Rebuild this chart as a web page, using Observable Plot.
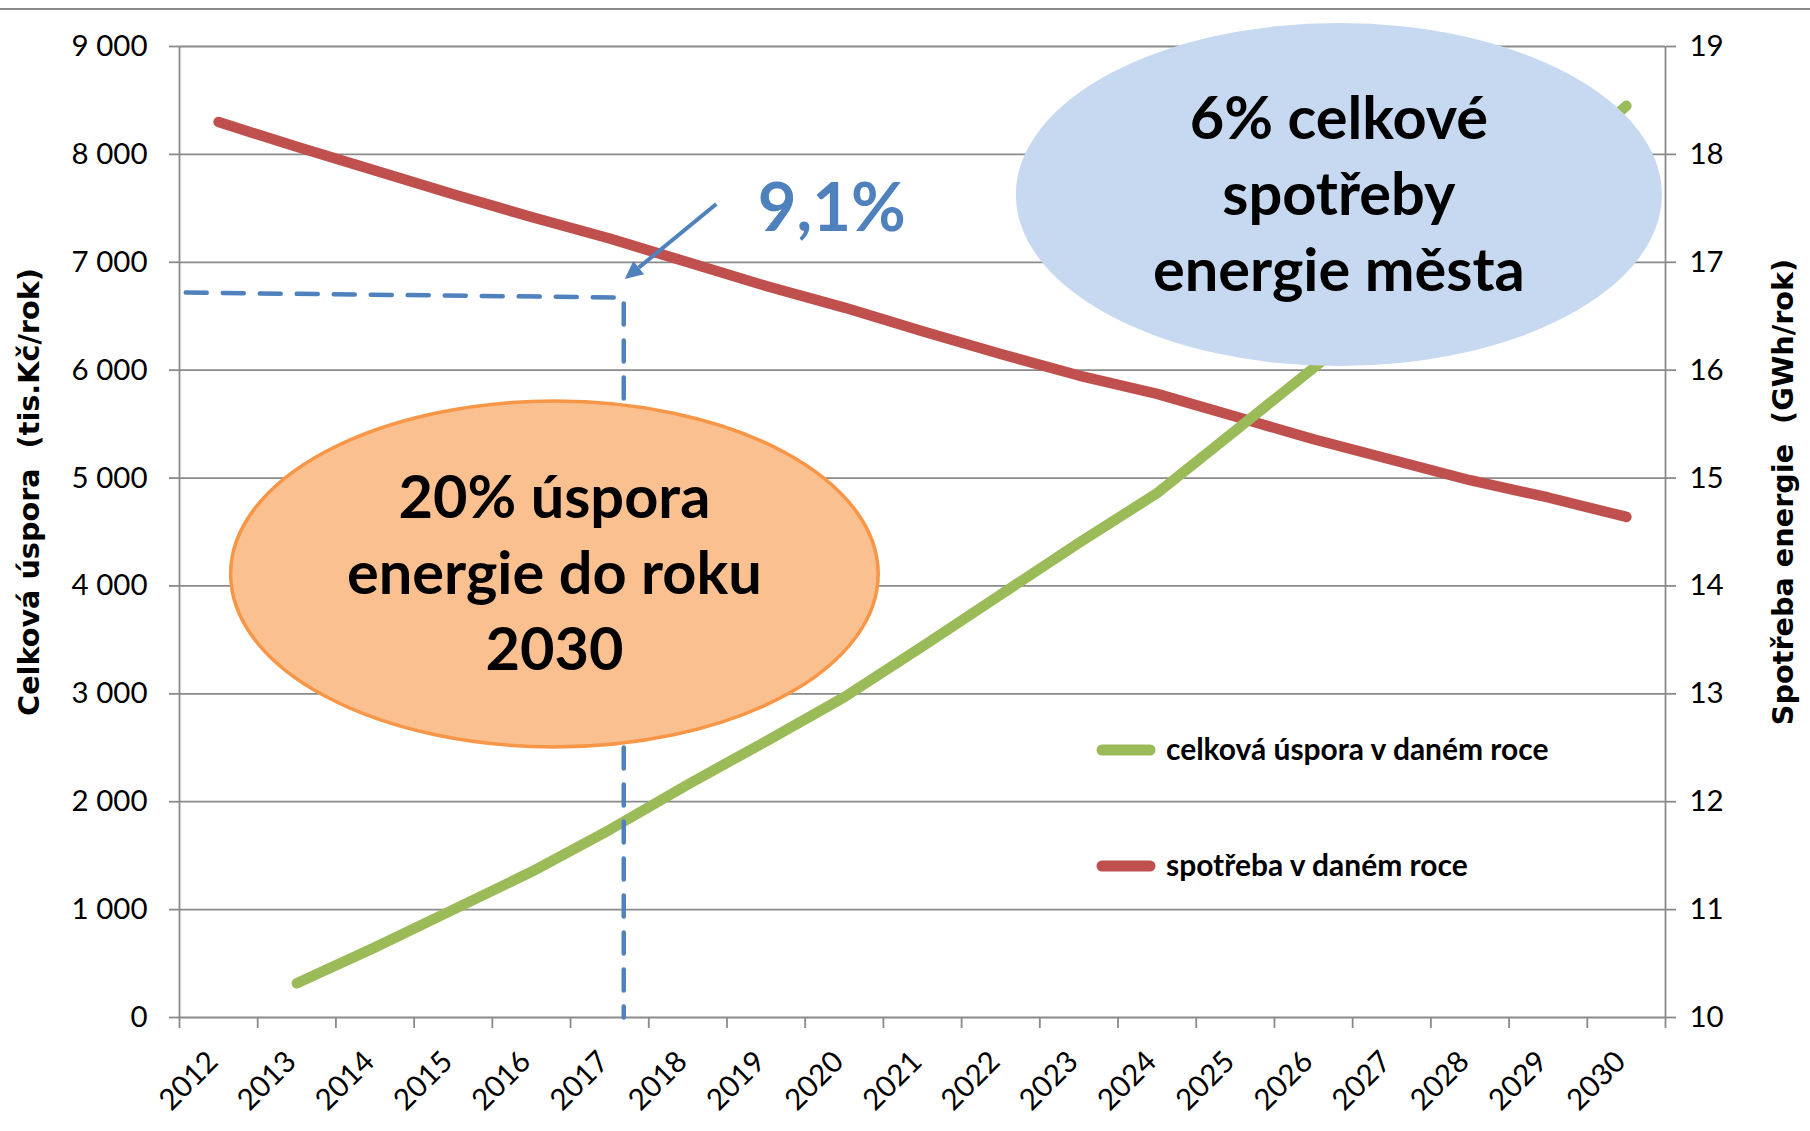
<!DOCTYPE html>
<html><head><meta charset="utf-8">
<script src="https://cdn.jsdelivr.net/npm/d3@7"></script>
<script src="https://cdn.jsdelivr.net/npm/@observablehq/plot@0.6"></script>
<style>
html,body{margin:0;padding:0;background:#fff;}
#wrap{position:relative;width:1810px;height:1131px;overflow:hidden;background:#fff}
#topline{position:absolute;left:0;top:8px;width:1810px;height:2px;background:#8a8a8a}
</style></head>
<body><div id="wrap"><div id="topline"></div></div>
<script>
// ---- data ----
const years = [2012,2013,2014,2015,2016,2017,2018,2019,2020,2021,2022,2023,2024,2025,2026,2027,2028,2029,2030];
// celková úspora v daném roce (tis.Kč/rok) – left axis
const savings = [null,317,650,1000,1350,1740,2160,2560,2970,3440,3920,4400,4860,5440,6020,6610,7210,7820,8450];
// spotřeba v daném roce (GWh/rok) – right axis
const consumption = [18.30,18.07,17.85,17.63,17.42,17.22,17.00,16.78,16.58,16.36,16.15,15.95,15.78,15.57,15.36,15.17,14.98,14.82,14.64];
const leftTicks = [0,1000,2000,3000,4000,5000,6000,7000,8000,9000];
const rightTicks = [10,11,12,13,14,15,16,17,18,19];
const leftTitle = "Celková úspora  (tis.Kč/rok)";
const rightTitle = "Spotřeba energie  (GWh/rok)";
const seriesNames = ["celková úspora v daném roce", "spotřeba v daném roce"];
// annotations (data coordinates)
const guide = [{year: 2011.58, value: 6719}, {year: 2017.18, value: 6673}, {year: 2017.18, value: 0}];
const pointer = {from: {year: 2018.37, value: 7535}, to: {year: 2017.20, value: 6840}};
const pctLabel = {year: 2018.90, value: 7285, text: "9,1%"};
const savingsBubble = {year: 2016.30, value: 4106, rxYears: 4.14, ryValue: 1603, lines: ["20% úspora", "energie do roku", "2030"]};
const shareBubble = {year: 2026.33, value: 7623, rxYears: 4.13, ryValue: 1590, lines: ["6% celkové", "spotřeby", "energie města"]};

// ---- helpers ----
const FONT = "Lato, 'Open Sans', sans-serif";
const TITLE_FONT = "'DejaVu Sans', Verdana, sans-serif";
const ctx = document.createElement("canvas").getContext("2d");
function fitSize(text, weight, family, width) {
  ctx.font = `${weight} 100px ${family}`;
  return 100 * width / ctx.measureText(text).width;
}
const GREEN = "#9BBB59", RED = "#C0504D", BLUE = "#4F81BD", GRID = "#8a8a8a";
const W = 1810, H = 1131, mL = 179, mR = 145, mT = 46, mB = 114;

const tickFs = fitSize("9 000", "normal", FONT, 76);
const fmtLeft = d => d3.format(",")(d).replace(",", " ");
const toLeft = v => (v - 10) * 1000; // map right axis (GWh) onto left axis scale
const bounds = years.map(y => y - 0.5).concat([years[years.length - 1] + 0.5]);

const green = years.map((y, i) => ({year: y, value: savings[i]})).filter(d => d.value != null);
const red = years.map((y, i) => ({year: y, value: toLeft(consumption[i])}));

const plot = Plot.plot({
  width: W, height: H,
  marginLeft: mL, marginRight: mR, marginTop: mT, marginBottom: mB,
  x: {domain: [bounds[0], bounds[bounds.length - 1]], axis: null},
  y: {domain: [0, 9000], axis: null},
  style: {fontFamily: FONT, background: "transparent", overflow: "visible", color: "black"},
  marks: [
    Plot.gridY(leftTicks, {stroke: GRID, strokeOpacity: 1, strokeWidth: 1.8}),
    Plot.ruleX([bounds[0], bounds[bounds.length - 1]], {stroke: GRID, strokeWidth: 1.8}),
    Plot.axisY(leftTicks, {anchor: "left", label: null, tickSize: 10, tickPadding: 22, tickFormat: fmtLeft,
      fontSize: tickFs, stroke: GRID, strokeWidth: 1.8, strokeOpacity: 1, fill: "black"}),
    Plot.axisY(rightTicks.map(toLeft), {anchor: "right", label: null, tickSize: 10, tickPadding: 14,
      tickFormat: d => String(d / 1000 + 10), fontSize: tickFs, stroke: GRID, strokeWidth: 1.8, strokeOpacity: 1, fill: "black"}),
    Plot.axisX(bounds, {anchor: "bottom", label: null, tickSize: 11, tickFormat: () => "", stroke: GRID, strokeWidth: 1.8, strokeOpacity: 1}),
    Plot.text(years, {x: d => d, frameAnchor: "bottom", text: d => String(d), rotate: -45,
      textAnchor: "end", dx: 1, dy: 46, fontSize: tickFs, fill: "black"}),
    Plot.line(red, {x: "year", y: "value", stroke: RED, strokeWidth: 10.5, strokeLinecap: "round", strokeLinejoin: "round"}),
    Plot.line(green, {x: "year", y: "value", stroke: GREEN, strokeWidth: 10.5, strokeLinecap: "round", strokeLinejoin: "round"}),
    Plot.line(guide, {x: "year", y: "value", stroke: BLUE, strokeWidth: 4.5, strokeDasharray: "21 16"})
  ]
});
document.getElementById("wrap").appendChild(plot);

const svg = d3.select(plot);
const xs = plot.scale("x"), ys = plot.scale("y");
const X = d3.scaleLinear(xs.domain, xs.range), Y = d3.scaleLinear(ys.domain, ys.range);

// arrow
{
  const x1 = X(pointer.from.year), y1 = Y(pointer.from.value), x2 = X(pointer.to.year), y2 = Y(pointer.to.value);
  const a = Math.atan2(y2 - y1, x2 - x1), L = 18, hw = 8.5;
  const bx = x2 - L * Math.cos(a), by = y2 - L * Math.sin(a);
  svg.append("line").attr("x1", x1).attr("y1", y1).attr("x2", bx).attr("y2", by)
    .attr("stroke", BLUE).attr("stroke-width", 4);
  svg.append("path").attr("fill", BLUE).attr("d",
    `M${x2},${y2}L${bx + hw * Math.sin(a)},${by - hw * Math.cos(a)}L${bx - hw * Math.sin(a)},${by + hw * Math.cos(a)}Z`);
  const fs = fitSize(pctLabel.text, "bold", FONT, 148);
  svg.append("text").attr("x", X(pctLabel.year)).attr("y", Y(pctLabel.value))
    .attr("text-anchor", "start")
    .attr("font-family", FONT).attr("font-weight", "bold").attr("font-size", fs)
    .attr("fill", BLUE).text(pctLabel.text);
}

// bubbles
function bubble(b, fill, stroke, fitLine, fitWidth) {
  const cx = X(b.year), cy = Y(b.value);
  const rx = X(b.year + b.rxYears) - cx, ry = Y(b.value - b.ryValue) - cy;
  const e = svg.append("ellipse").attr("cx", cx).attr("cy", cy).attr("rx", rx).attr("ry", ry).attr("fill", fill);
  if (stroke) e.attr("stroke", stroke).attr("stroke-width", 3.5);
  const fs = fitSize(fitLine, "bold", FONT, fitWidth);
  b.lines.forEach((t, i) => {
    svg.append("text").attr("x", cx).attr("y", cy + 20 + (i - 1) * 76)
      .attr("text-anchor", "middle").attr("font-family", FONT).attr("font-weight", "bold")
      .attr("font-size", fs).attr("fill", "black").text(t);
  });
}
bubble(savingsBubble, "#FAC090", "#F79646", "energie do roku", 415);
bubble(shareBubble, "#C6D9F1", null, "energie města", 372);

// legend
{
  const fs = fitSize(seriesNames[0], "bold", FONT, 384);
  [[GREEN, 750], [RED, 866]].forEach(([c, y], i) => {
    svg.append("line").attr("x1", 1102).attr("x2", 1150).attr("y1", y).attr("y2", y)
      .attr("stroke", c).attr("stroke-width", 11).attr("stroke-linecap", "round");
    svg.append("text").attr("x", 1166).attr("y", y).attr("dy", "0.35em")
      .attr("text-anchor", "start")
      .attr("font-family", FONT).attr("font-weight", "bold").attr("font-size", fs)
      .attr("fill", "black").text(seriesNames[i]);
  });
}

// axis titles
{
  const fsL = fitSize(leftTitle, "bold", TITLE_FONT, 448);
  const fsR = fitSize(rightTitle, "bold", TITLE_FONT, 476);
  const fs = Math.min(fsL, fsR);
  [[leftTitle, 29], [rightTitle, 1783]].forEach(([t, x]) => {
    svg.append("text").attr("transform", `translate(${x},492) rotate(-90)`)
      .attr("text-anchor", "middle").attr("dy", "0.35em")
      .attr("font-family", TITLE_FONT).attr("font-weight", "bold").attr("font-size", fs)
      .attr("fill", "black").text(t);
  });
}
</script>
</body></html>
